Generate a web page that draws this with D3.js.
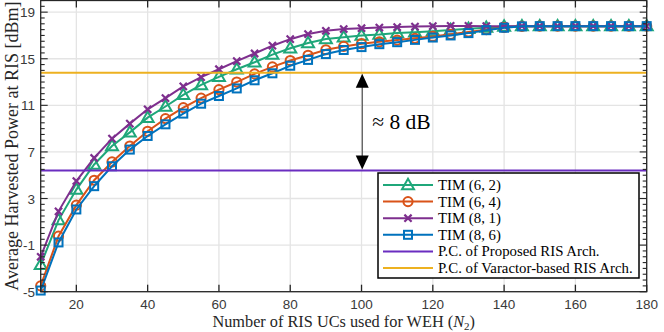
<!DOCTYPE html>
<html><head><meta charset="utf-8">
<script src="https://cdn.jsdelivr.net/npm/d3@7"></script>
<style>body{margin:0;background:#fff}svg{display:block}</style>
</head><body>
<svg id="c" width="664" height="332"></svg>
<script>
const N2 = [10,15,20,25,30,35,40,45,50,55,60,65,70,75,80,85,90,95,100,105,110,115,120,125,130,135,140,145,150,155,160,165,170,175,180];
const tim62 = [-2.7,1.15,3.77,5.92,7.51,8.68,9.94,10.9,11.9,12.75,13.45,14.1,14.7,15.35,15.9,16.35,16.7,16.85,17.0,17.08,17.2,17.28,17.37,17.47,17.57,17.67,17.77,17.8,17.8,17.8,17.8,17.8,17.8,17.8,17.8];
const tim64 = [-4.5,-0.23,2.43,4.57,6.14,7.51,8.77,9.86,10.8,11.62,12.35,13.0,13.7,14.3,14.85,15.3,15.77,16.06,16.29,16.45,16.6,16.75,16.92,17.1,17.3,17.5,17.68,17.78,17.8,17.8,17.8,17.8,17.8,17.8,17.8];
const tim81 = [-2.0,1.9,4.5,6.48,8.14,9.43,10.66,11.62,12.63,13.42,14.1,14.8,15.45,16.12,16.68,17.12,17.4,17.55,17.62,17.68,17.72,17.76,17.8,17.82,17.82,17.8,17.8,17.8,17.8,17.8,17.8,17.8,17.8,17.8,17.8];
const tim86 = [-4.9,-0.77,2.06,4.06,5.77,7.2,8.37,9.37,10.29,11.14,11.8,12.45,13.15,13.75,14.4,14.9,15.4,15.75,16.0,16.25,16.42,16.62,16.82,17.0,17.2,17.45,17.66,17.78,17.8,17.8,17.8,17.8,17.8,17.8,17.8];
const pcProposed = 5.4;
const pcVaractor = 13.8;
const xTicks = [20,40,60,80,100,120,140,160,180];
const yTicks = [-5,-1,3,7,11,15,19];
const seriesNames = ["TIM (6, 2)","TIM (6, 4)","TIM (8, 1)","TIM (8, 6)"];
const lineNames = ["P.C. of Proposed RIS Arch.","P.C. of Varactor-based RIS Arch."];

const svg = d3.select("#c");
const L=40.7, R=646.7, T=0.5, B=291.7;
const x = d3.scaleLinear().domain([10,180]).range([L,R]);
const y = d3.scaleLinear().domain([-5,20]).range([B,T]);
const axisCol = "#262626";
const serif = "'Liberation Serif','DejaVu Serif',serif";
const sans = "'Liberation Sans',Arial,sans-serif";

// grid
const g = svg.append("g");
g.selectAll(".gx").data(xTicks).join("line")
  .attr("x1",d=>x(d)).attr("x2",d=>x(d)).attr("y1",T).attr("y2",B)
  .attr("stroke","#e4e4e4").attr("stroke-width",1.3);
g.selectAll(".gy").data(yTicks).join("line")
  .attr("x1",L).attr("x2",R).attr("y1",d=>y(d)).attr("y2",d=>y(d))
  .attr("stroke","#e4e4e4").attr("stroke-width",1.3);

// series
const cols = ["#1fa77a","#d95319","#7e2f8e","#0072bd"];
const datas = [tim62,tim64,tim81,tim86];
const markers = ["tri","circ","x","sq"];
function drawMarker(sel, type, color){
  if(type==="tri"){
    sel.append("path").attr("d","M0,-6.2L6,4.2L-6,4.2Z").attr("fill","none").attr("stroke",color).attr("stroke-width",2);
  } else if(type==="circ"){
    sel.append("circle").attr("r",4.6).attr("fill","none").attr("stroke",color).attr("stroke-width",2);
  } else if(type==="x"){
    sel.append("path").attr("d","M-3.6,-3.6L3.6,3.6M-3.6,3.6L3.6,-3.6").attr("fill","none").attr("stroke",color).attr("stroke-width",2.2);
  } else {
    sel.append("rect").attr("x",-4).attr("y",-4).attr("width",8).attr("height",8).attr("fill","none").attr("stroke",color).attr("stroke-width",2);
  }
}
const line = d3.line().x((d,i)=>x(N2[i])).y(d=>y(d));
datas.forEach((vals,k)=>{
  const sg = svg.append("g");
  sg.append("path").datum(vals).attr("d",line).attr("fill","none").attr("stroke",cols[k]).attr("stroke-width",2);
  vals.forEach((v,i)=>{
    const m = sg.append("g").attr("transform",`translate(${x(N2[i])},${y(v)})`);
    drawMarker(m, markers[k], cols[k]);
  });
});

// horizontal lines
const hCols = ["#6a2dc0","#edb120"];
[pcProposed,pcVaractor].forEach((v,k)=>{
  svg.append("line").attr("x1",L).attr("x2",R).attr("y1",y(v)).attr("y2",y(v))
    .attr("stroke",hCols[k]).attr("stroke-width",2);
});

// arrow annotation
const ax = x(100.2);
const ya = y(pcVaractor)+1, yb = y(pcProposed)-1;
svg.append("line").attr("x1",ax).attr("x2",ax).attr("y1",ya+12).attr("y2",yb-12).attr("stroke","#333").attr("stroke-width",1);
svg.append("path").attr("d",`M${ax},${ya}L${ax-6.5},${ya+14}L${ax+6.5},${ya+14}Z`).attr("fill","#000");
svg.append("path").attr("d",`M${ax},${yb}L${ax-6.5},${yb-14}L${ax+6.5},${yb-14}Z`).attr("fill","#000");
svg.append("text").attr("x",ax+10).attr("y",(ya+yb)/2+7).attr("font-family",serif).attr("font-size",21.5).attr("fill","#000").text("≈ 8 dB");

// frame and ticks
const fr = svg.append("g").attr("stroke",axisCol).attr("fill","none");
fr.append("rect").attr("x",L).attr("y",T).attr("width",R-L).attr("height",B-T).attr("stroke-width",1.3);
xTicks.forEach(t=>{
  fr.append("line").attr("x1",x(t)).attr("x2",x(t)).attr("y1",B).attr("y2",B-7).attr("stroke-width",1.3);
  fr.append("line").attr("x1",x(t)).attr("x2",x(t)).attr("y1",T).attr("y2",T+7).attr("stroke-width",1.3);
});
const minor = d3.range(-5,20.01,0.5);
minor.forEach(t=>{
  const major = yTicks.includes(t);
  const len = major?7:4;
  fr.append("line").attr("x1",L).attr("x2",L+len).attr("y1",y(t)).attr("y2",y(t)).attr("stroke-width",1.1);
  fr.append("line").attr("x1",R).attr("x2",R-len).attr("y1",y(t)).attr("y2",y(t)).attr("stroke-width",1.1);
});
svg.selectAll(".xl").data(xTicks).join("text").attr("x",d=>x(d)).attr("y",309)
  .attr("text-anchor","middle").attr("font-family",sans).attr("font-size",13.5).attr("fill","#3a3a3a").text(d=>d);
svg.selectAll(".yl").data(yTicks).join("text").attr("x",35).attr("y",d=>y(d)+5)
  .attr("text-anchor","end").attr("font-family",sans).attr("font-size",13.5).attr("fill","#3a3a3a").text(d=>d);

// axis titles
const xt = svg.append("text").attr("x",(L+R)/2).attr("y",327).attr("text-anchor","middle")
  .attr("font-family",serif).attr("font-size",16.3).attr("fill",axisCol);
xt.append("tspan").text("Number of RIS UCs used for WEH (");
xt.append("tspan").attr("font-style","italic").text("N");
xt.append("tspan").attr("font-size",11).attr("dy",3).text("2");
xt.append("tspan").attr("dy",-3).text(")");
svg.append("text").attr("transform",`translate(17.5,${(T+B)/2}) rotate(-90)`).attr("text-anchor","middle")
  .attr("font-family",serif).attr("font-size",18).attr("fill",axisCol).text("Average Harvested Power at RIS [dBm]");

// legend
const lg = svg.append("g");
const lx=378, ly=173, lw=261, lh=105;
lg.append("rect").attr("x",lx).attr("y",ly).attr("width",lw).attr("height",lh).attr("fill","#fff").attr("stroke","#000").attr("stroke-width",1.5);
const names = seriesNames.concat(lineNames);
const lcols = cols.concat(hCols);
names.forEach((nm,i)=>{
  const cy = ly+12+i*16.6;
  lg.append("line").attr("x1",lx+5).attr("x2",lx+55).attr("y1",cy).attr("y2",cy).attr("stroke",lcols[i]).attr("stroke-width",2);
  if(i<4){
    const m = lg.append("g").attr("transform",`translate(${lx+30},${cy})`);
    drawMarker(m, markers[i], lcols[i]);
  }
  lg.append("text").attr("x",lx+60).attr("y",cy+5).attr("font-family",serif).attr("font-size",14.8).attr("fill","#000").text(nm);
});
</script>
</body></html>
